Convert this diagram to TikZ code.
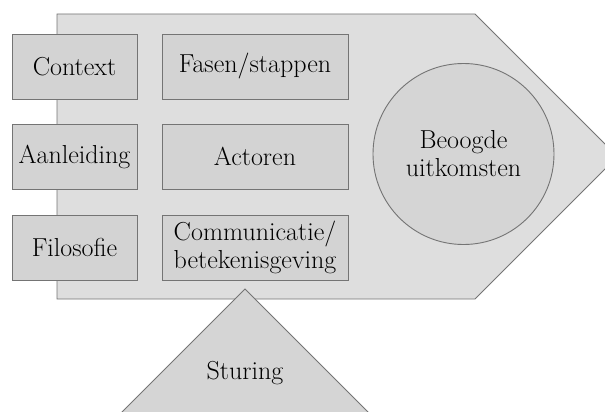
\documentclass[tikz,border=0pt]{standalone}
\usetikzlibrary{positioning}
\definecolor{vlak}{HTML}{DEDEDE}
\definecolor{blok}{HTML}{D3D3D3}
\definecolor{rand}{HTML}{747474}

\begin{document}
\begin{tikzpicture}[x=1pt,y=-1pt,
  every node/.style={font=\fontsize{26}{28}\selectfont,align=center,inner sep=0pt},
  blok/.style={draw=rand,fill=blok,line width=0.9pt,minimum height=65pt},
  vorm/.style={draw=rand,line width=0.9pt}]
  \clip (0,0) rectangle (605,412);
  % grote pijl
  \draw[vorm,fill=vlak] (57,14) -- (475,14) -- (617.5,156.5) -- (475,299) -- (57,299) -- cycle;
  \node[blok,minimum width=125pt] (ctx)  at (74.5,66.5)  {Context};
  \node[blok,minimum width=125pt] (aanl) at (74.5,156.5) {Aanleiding};
  \node[blok,minimum width=125pt] (filo) at (74.5,247.5) {Filosofie};
  \node[blok,minimum width=186pt] (fasen) at (255,66.5)  {Fasen/stappen};
  \node[blok,minimum width=186pt] (act)   at (255,156.5) {Actoren};
  \node[blok,minimum width=186pt] (comm)  at (255,247.5) {Communicatie/\\betekenisgeving};
  \node[circle,draw=rand,fill=vlak!96!black,line width=0.9pt,minimum size=181pt] (uitk)
    at (463.5,154) {Beoogde\\uitkomsten};
  % driehoek onder
  \draw[vorm,fill=blok!95!white] (245,289) -- (105,429) -- (385,429) -- cycle;
  \node (stur) at (245,373) {Sturing};
\end{tikzpicture}
\end{document}
